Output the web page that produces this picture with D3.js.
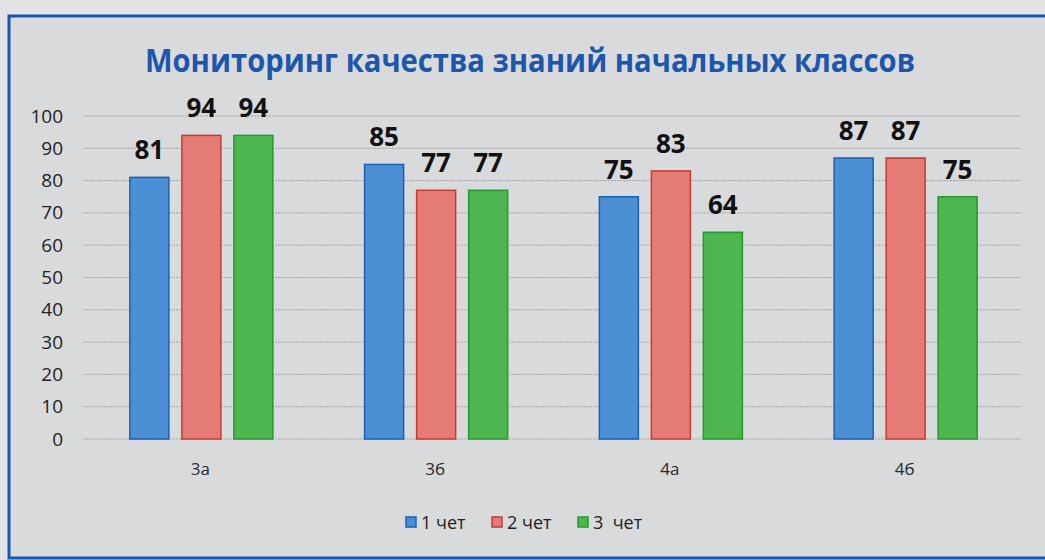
<!DOCTYPE html>
<html>
<head>
<meta charset="utf-8">
<script src="https://cdn.jsdelivr.net/npm/d3@7"></script>
<style>
  body { margin: 0; background: #e2e3e5; }
  svg { display: block; }
</style>
</head>
<body>
<div id="chart"></div>
<script>
// chart data
var classes = ["3а", "3б", "4а", "4б"];
var seriesNames = ["1 чет", "2 чет", "3  чет"];
var q1 = [81, 85, 75, 87];
var q2 = [94, 77, 83, 87];
var q3 = [94, 77, 64, 75];
var yTicks = [0, 10, 20, 30, 40, 50, 60, 70, 80, 90, 100];
var fills = ["#4b8fd5", "#e47b74", "#4db64f"];
var strokes = ["#1b5fb5", "#c63a30", "#23992f"];

var width = 1045, height = 560;
var margin = {top: 116, right: 23, bottom: 121, left: 83};

var svg = d3.select("#chart").append("svg")
    .attr("width", width)
    .attr("height", height);

// panel with blue frame
svg.append("rect")
    .attr("x", 9).attr("y", 16)
    .attr("width", width + 10).attr("height", 542)
    .attr("fill", "#d9dadc")
    .attr("stroke", "#1a56b0")
    .attr("stroke-width", 3);

var x0 = d3.scaleBand()
    .domain(classes)
    .range([margin.left, width - margin.right]);

var x1 = d3.scaleBand()
    .domain([0, 1, 2])
    .range([0, 143])
    .paddingInner(0.25);

var y = d3.scaleLinear()
    .domain([0, 100])
    .range([height - margin.bottom, margin.top]);

// gridlines
svg.append("g")
    .selectAll("line")
    .data(yTicks)
    .enter()
    .append("line")
    .attr("x1", margin.left)
    .attr("x2", width - margin.right)
    .attr("y1", function(d){ return y(d); })
    .attr("y2", function(d){ return y(d); })
    .attr("stroke", "#a4a5a8")
    .attr("stroke-width", 1)
    .attr("stroke-dasharray", "2,1");

// y axis labels
var yAxis = d3.axisLeft(y).tickValues(yTicks).tickSize(0).tickPadding(20);
var gy = svg.append("g")
    .attr("transform", "translate(" + margin.left + ",0)")
    .call(yAxis);
gy.select(".domain").remove();
gy.selectAll("text")
    .attr("font-family", "Open Sans, sans-serif")
    .attr("font-size", 19)
    .attr("fill", "#222");

// x axis labels
var xAxis = d3.axisBottom(x0).tickSize(0).tickPadding(24);
var gx = svg.append("g")
    .attr("transform", "translate(0," + y(0) + ")")
    .call(xAxis);
gx.select(".domain").remove();
gx.selectAll("text")
    .attr("font-family", "Open Sans, sans-serif")
    .attr("font-size", 17)
    .attr("fill", "#2a2a2a");

var allSeries = [q1, q2, q3];

var groups = svg.selectAll("g.cls")
    .data(classes)
    .enter()
    .append("g")
    .attr("class", "cls")
    .attr("transform", function(d){
        return "translate(" + (x0(d) + (x0.bandwidth() - 143) / 2 + 1) + ",0)";
    });

groups.each(function(c, ci){
    var g = d3.select(this);
    var vals = allSeries.map(function(s){ return s[ci]; });

    g.selectAll("rect")
        .data(vals)
        .enter()
        .append("rect")
        .attr("x", function(d, i){ return x1(i); })
        .attr("y", function(d){ return y(d); })
        .attr("width", x1.bandwidth())
        .attr("height", function(d){ return y(0) - y(d); })
        .attr("fill", function(d, i){ return fills[i]; })
        .attr("stroke", function(d, i){ return strokes[i]; })
        .attr("stroke-width", 1.5);

    g.selectAll("text.val")
        .data(vals)
        .enter()
        .append("text")
        .attr("class", "val")
        .attr("x", function(d, i){ return x1(i) + x1.bandwidth() / 2; })
        .attr("y", function(d){ return y(d) - 18; })
        .attr("text-anchor", "middle")
        .attr("font-family", "Open Sans, sans-serif")
        .attr("font-weight", "bold")
        .attr("font-size", 26)
        .attr("fill", "#111")
        .text(function(d){ return d; });
});

// title
svg.append("text")
    .attr("x", 530)
    .attr("y", 72)
    .attr("text-anchor", "middle")
    .attr("font-family", "Open Sans, sans-serif")
    .attr("font-weight", "bold")
    .attr("font-size", 32)
    .attr("fill", "#1d57ab")
    .attr("textLength", 770)
    .attr("lengthAdjust", "spacingAndGlyphs")
    .text("Мониторинг качества знаний начальных классов");

// legend
var legendX = [406, 492, 578];
var legend = svg.append("g");
var items = legend.selectAll("g")
    .data(seriesNames)
    .enter()
    .append("g")
    .attr("transform", function(d, i){ return "translate(" + legendX[i] + ",517)"; });

items.append("rect")
    .attr("width", 10).attr("height", 10)
    .attr("fill", function(d, i){ return fills[i]; })
    .attr("stroke", function(d, i){ return strokes[i]; })
    .attr("stroke-width", 1.5);

items.append("text")
    .attr("x", 15)
    .attr("y", 12)
    .attr("font-family", "Open Sans, sans-serif")
    .attr("font-size", 18)
    .attr("fill", "#222")
    .attr("xml:space", "preserve")
    .style("white-space", "pre")
    .text(function(d){ return d; });
</script>
</body>
</html>
